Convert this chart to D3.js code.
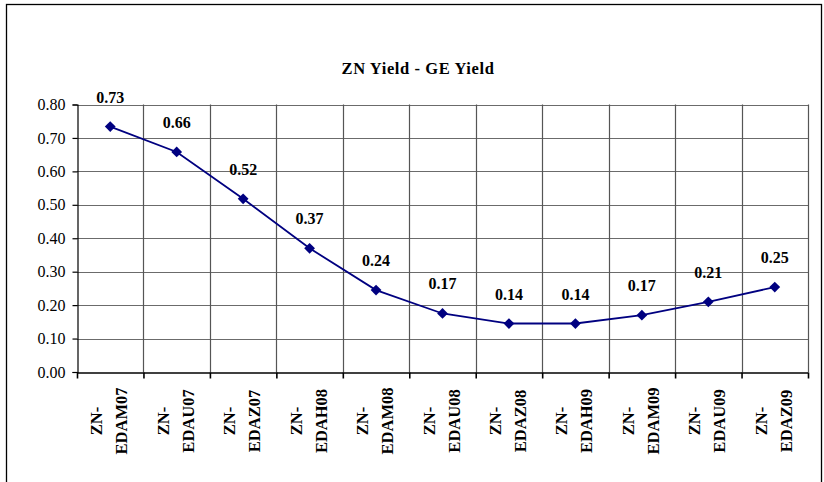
<!DOCTYPE html>
<html>
<head>
<meta charset="utf-8">
<script src="https://cdn.jsdelivr.net/npm/d3@7"></script>
<style>
  body { margin: 0; background: #fff; }
  svg { display: block; }
</style>
</head>
<body>
<div id="chart"></div>
<script>
// data
const categories = ["ZN-EDAM07", "ZN-EDAU07", "ZN-EDAZ07", "ZN-EDAH08", "ZN-EDAM08", "ZN-EDAU08",
                    "ZN-EDAZ08", "ZN-EDAH09", "ZN-EDAM09", "ZN-EDAU09", "ZN-EDAZ09"];
const spread = [0.734, 0.658, 0.518, 0.370, 0.245, 0.175, 0.145, 0.145, 0.170, 0.210, 0.254];
const yTicks = [0, 0.1, 0.2, 0.3, 0.4, 0.5, 0.6, 0.7, 0.8];
const title = "ZN Yield - GE Yield";

const W = 824, H = 482;
const plot = { left: 77, right: 808, top: 104.5, bottom: 372 };
const serif = "'Liberation Serif', 'Times New Roman', serif";

const svg = d3.select("#chart").append("svg")
    .attr("width", W)
    .attr("height", H);

// outer frame
svg.append("rect")
    .attr("x", 6.5).attr("y", 4.5)
    .attr("width", 815).attr("height", 500)
    .attr("fill", "#fff")
    .attr("stroke", "#000")
    .attr("stroke-width", 1.3);

// scales
const xEdge = d3.scaleLinear().domain([0, categories.length]).range([plot.left, plot.right]);
const y = d3.scaleLinear().domain([0, 0.8]).range([plot.bottom, plot.top]);

// title
svg.append("text")
    .attr("x", 418).attr("y", 74)
    .attr("text-anchor", "middle")
    .attr("font-family", serif)
    .attr("font-weight", "bold")
    .attr("font-size", 16.5)
    .attr("letter-spacing", 0.6)
    .text(title);

// horizontal grid
svg.append("g").selectAll("line").data(yTicks.filter(d => d > 0))
    .enter().append("line")
    .attr("x1", plot.left).attr("x2", plot.right)
    .attr("y1", d => Math.round(y(d)) + 0.5).attr("y2", d => Math.round(y(d)) + 0.5)
    .attr("stroke", "#6b6b6b")
    .attr("stroke-width", 1.2);

// vertical grid
svg.append("g").selectAll("line").data(d3.range(1, categories.length + 1))
    .enter().append("line")
    .attr("x1", d => Math.round(xEdge(d)) + 0.5).attr("x2", d => Math.round(xEdge(d)) + 0.5)
    .attr("y1", plot.top).attr("y2", plot.bottom)
    .attr("stroke", "#555")
    .attr("stroke-width", 1.2);

// y axis
const yAxis = d3.axisLeft(y)
    .tickValues(yTicks)
    .tickSize(5)
    .tickPadding(7)
    .tickFormat(d3.format(".2f"));

const yAxisGroup = svg.append("g")
    .attr("transform", "translate(" + (plot.left + 0.5) + ",0)")
    .call(yAxis);
yAxisGroup.selectAll("text")
    .attr("font-family", serif)
    .attr("font-size", 16)
    .attr("fill", "#000");
yAxisGroup.selectAll("line, path").attr("stroke", "#000").attr("stroke-width", 1.2);

// x axis (ticks at category boundaries)
const xAxis = d3.axisBottom(xEdge)
    .tickValues(d3.range(0, categories.length + 1))
    .tickSize(6)
    .tickSizeOuter(0)
    .tickFormat("");

const xAxisGroup = svg.append("g")
    .attr("transform", "translate(0," + (plot.bottom + 0.5) + ")")
    .call(xAxis);
xAxisGroup.selectAll("line, path").attr("stroke", "#000").attr("stroke-width", 1.6);

// category labels, rotated, two lines
const catLabels = svg.append("g").selectAll("text").data(categories)
    .enter().append("text")
    .attr("transform", (d, i) => "translate(" + xEdge(i + 0.5) + ",421) rotate(-90)")
    .attr("text-anchor", "middle")
    .attr("font-family", serif)
    .attr("font-weight", "bold")
    .attr("font-size", 16.5);

catLabels.append("tspan")
    .attr("x", 0).attr("y", -8)
    .text(d => d.split("-")[0] + "-");
catLabels.append("tspan")
    .attr("x", 0).attr("y", 17)
    .text(d => d.split("-")[1]);

// line
const line = d3.line()
    .x((d, i) => xEdge(i + 0.5))
    .y(d => y(d));

svg.append("path")
    .datum(spread)
    .attr("d", line)
    .attr("fill", "none")
    .attr("stroke", "#000080")
    .attr("stroke-width", 1.8);

// markers
svg.append("g").selectAll("path").data(spread)
    .enter().append("path")
    .attr("d", d3.symbol(d3.symbolSquare, 58))
    .attr("transform", (d, i) => "translate(" + xEdge(i + 0.5) + "," + y(d) + ") rotate(45)")
    .attr("fill", "#000080");

// value labels
svg.append("g").selectAll("text").data(spread)
    .enter().append("text")
    .attr("x", (d, i) => xEdge(i + 0.5))
    .attr("y", d => y(d) - 24)
    .attr("text-anchor", "middle")
    .attr("font-family", serif)
    .attr("font-weight", "bold")
    .attr("font-size", 16)
    .text(d => d3.format(".2f")(d));
</script>
</body>
</html>
